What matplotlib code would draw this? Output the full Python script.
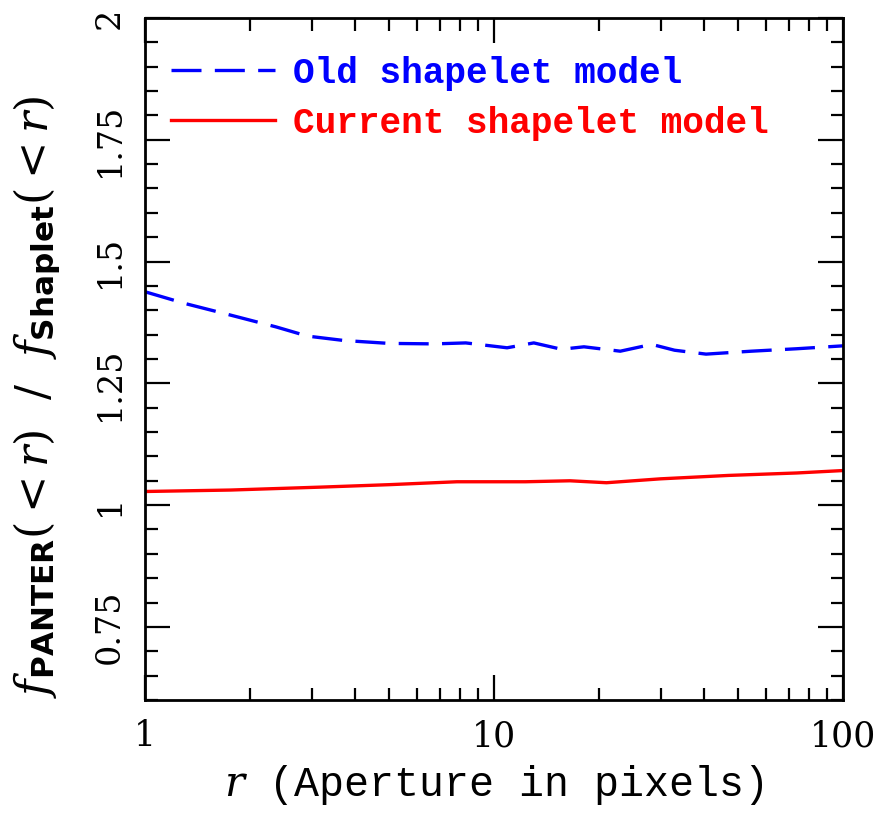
import numpy as np
import matplotlib
matplotlib.use('Agg')
import matplotlib.pyplot as plt
from matplotlib.ticker import FixedLocator, NullFormatter, MultipleLocator

plt.rcParams['mathtext.fontset'] = 'custom'
plt.rcParams['mathtext.it'] = 'DejaVu Serif:italic'
plt.rcParams['mathtext.rm'] = 'DejaVu Serif'
plt.rcParams['mathtext.sf'] = 'DejaVu Sans:bold'

# aperture radius (pixels) and flux ratio for the two shapelet models
r_old = [1.0, 1.3, 1.76, 2.37, 2.92, 3.71, 5.0, 6.75, 8.3, 10.9, 13.0, 15.6,
         18.1, 23.0, 28.3, 32.9, 40.5, 54.6, 73.6, 100.0]
ratio_old = [1.438, 1.414, 1.390, 1.366, 1.347, 1.338, 1.332, 1.331, 1.333, 1.323,
             1.333, 1.320, 1.325, 1.316, 1.330, 1.318, 1.310, 1.316, 1.321, 1.327]

r_cur = [1.0, 1.76, 3.19, 5.0, 7.83, 12.3, 16.5, 21.0, 30.0, 47.0, 73.6, 100.0]
ratio_cur = [1.028, 1.031, 1.037, 1.042, 1.048, 1.048, 1.050, 1.046, 1.054, 1.061,
             1.066, 1.071]

fig = plt.figure(figsize=(8.81, 8.17), dpi=100)
ax = fig.add_axes([0.1646, 0.1432, 0.7923, 0.8348])

ax.plot(r_old, ratio_old, color='#0000ff', lw=2.4, dashes=(9, 4),
        label='Old shapelet model')
ax.plot(r_cur, ratio_cur, color='#ff0000', lw=2.4, label='Current shapelet model')

ax.set_xscale('log')
ax.set_xlim(1, 100)
ax.set_ylim(0.6, 2.0)

ax.xaxis.set_major_locator(FixedLocator([1, 10, 100]))
ax.xaxis.set_minor_locator(FixedLocator([2, 3, 4, 5, 6, 7, 8, 9,
                                         20, 30, 40, 50, 60, 70, 80, 90]))
ax.xaxis.set_minor_formatter(NullFormatter())
ax.set_xticklabels(['1', '10', '100'])

ax.yaxis.set_major_locator(FixedLocator([0.75, 1.0, 1.25, 1.5, 1.75, 2.0]))
ax.yaxis.set_minor_locator(MultipleLocator(0.05))
ax.set_yticklabels(['0.75', '1', '1.25', '1.5', '1.75', '2'], rotation=90,
                   va='center')

ax.tick_params(which='both', direction='in', top=True, right=True, width=1.6,
               colors='black')
ax.tick_params(which='major', length=18)
ax.tick_params(which='minor', length=9)
ax.tick_params(axis='x', which='major', pad=14, labelsize=25)
ax.tick_params(axis='y', which='major', pad=14, labelsize=24)
for lab in ax.get_xticklabels() + ax.get_yticklabels():
    lab.set_family('DejaVu Serif')
for sp in ax.spines.values():
    sp.set_linewidth(2.0)

ax.set_xlabel('$r$ (Aperture in pixels)', family='Liberation Mono', fontsize=30)
ax.xaxis.set_label_coords(0.5, -0.092)
ax.set_ylabel(r'$f_{\mathsf{PANTER}}(<r)\ \ /\ \ f_{\mathsf{Shaplet}}(<r)$',
              fontsize=32)
ax.yaxis.set_label_coords(-0.118, 0.444)

leg = ax.legend(loc='upper left', bbox_to_anchor=(-0.01, 0.992), frameon=False,
                handlelength=2.9, handletextpad=0.5, labelspacing=0.42,
                prop={'family': 'Liberation Mono', 'weight': 'bold', 'size': 26},
                labelcolor='linecolor')

fig.savefig('out.png', dpi=100)
